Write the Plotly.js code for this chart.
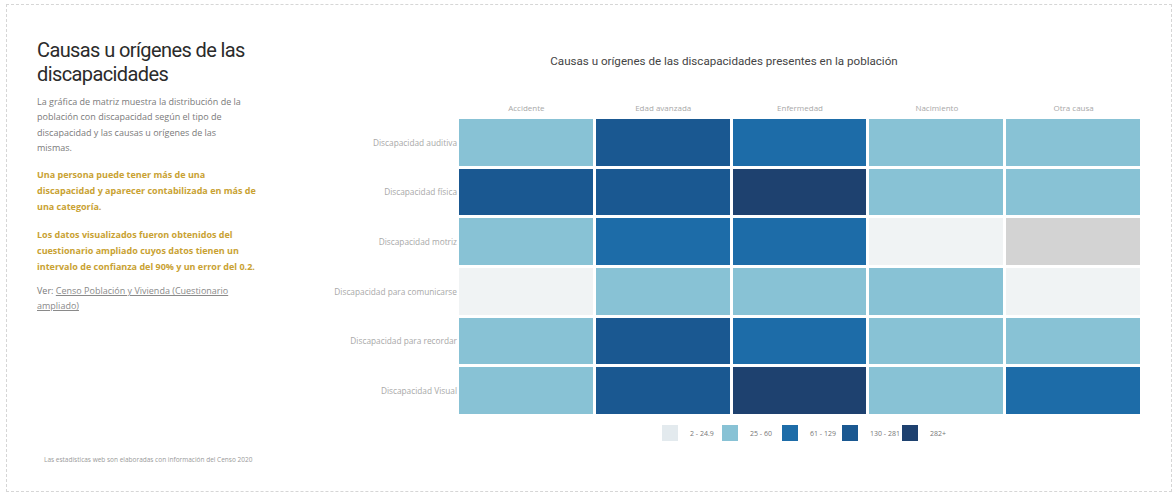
<!DOCTYPE html>
<html lang="es">
<head>
<meta charset="utf-8">
<script src="https://cdn.plot.ly/plotly-3.0.1.min.js"></script>
<style>
  html, body { margin:0; padding:0; background:#fff; }
  body { width:1176px; height:496px; position:relative; overflow:hidden; font-family:"Open Sans", Roboto, sans-serif; }
  #frame { position:absolute; left:6px; top:4px; width:1166px; height:488px; border:1px dashed #d6d6d6; box-sizing:border-box; }
  #side { position:absolute; left:37px; top:38px; width:262px; }
  h1 { margin:0; font-family:Roboto, sans-serif; font-weight:400; font-size:20px; letter-spacing:-0.6px; line-height:24px; color:#2b2b2b; }
  .p { font-size:9px; line-height:15.3px; color:#7a7a7a; margin:0; }
  .gold { font-size:9px; line-height:16px; color:#c9a233; font-weight:700; margin:0; }
  a { color:#8a8a8a; text-decoration:underline; }
  #foot { position:absolute; left:44px; top:455px; font-size:6.5px; color:#9a9a9a; white-space:nowrap; }
  #chart { position:absolute; left:0; top:0; width:1176px; height:496px; }
</style>
</head>
<body>
<div id="frame"></div>
<div id="chart"></div>
<div id="side">
  <h1>Causas u orígenes de las<br>discapacidades</h1>
  <p class="p" style="margin-top:8px">La gráfica de matriz muestra la distribución de la<br>población con discapacidad según el tipo de<br>discapacidad y las causas u orígenes de las<br>mismas.</p>
  <p class="gold" style="margin-top:12px">Una persona puede tener más de una<br>discapacidad y aparecer contabilizada en más de<br>una categoría.</p>
  <p class="gold" style="margin-top:12px">Los datos visualizados fueron obtenidos del<br>cuestionario ampliado cuyos datos tienen un<br>intervalo de confianza del 90% y un error del 0.2.</p>
  <p class="p" style="margin-top:8px">Ver: <a>Censo Población y Vivienda (Cuestionario<br>ampliado)</a></p>
</div>
<div id="foot">Las estadísticas web son elaboradas con información del Censo 2020</div>
<script>
// ---- data ----
const causas = ['Accidente', 'Edad avanzada', 'Enfermedad', 'Nacimiento', 'Otra causa'];
const tipos = ['Discapacidad auditiva', 'Discapacidad física', 'Discapacidad motriz',
               'Discapacidad para comunicarse', 'Discapacidad para recordar', 'Discapacidad Visual'];
const auditiva   = [40, 180, 110, 30, 35];
const fisica     = [150, 200, 320, 45, 40];
const motriz     = [50, 120, 115, 15, null];
const comunicar  = [8, 35, 40, 45, 10];
const recordar   = [30, 170, 100, 35, 40];
const visual     = [45, 230, 300, 40, 90];
const binStarts  = [2, 25, 61, 130, 282];
const binLabels  = ['2 - 24.9', '25 - 60', '61 - 129', '130 - 281', '282+'];
const binColors  = ['#f0f3f4', '#88c2d5', '#1d6ca8', '#1a5891', '#1e416f'];
const legendColors = ['#e3eaee', '#88c2d5', '#1d6ca8', '#1a5891', '#1e416f'];
const noDataColor = '#d3d3d3';

const rows = [auditiva, fisica, motriz, comunicar, recordar, visual];
function cls(v){ if (v == null) return null; let c = 0; binStarts.forEach((b,i)=>{ if (v >= b) c = i; }); return c; }
const zClass = rows.map(r => r.map(cls));
const zMask = rows.map(r => r.map(v => v == null ? 1 : null));
const n = binColors.length;
const cscale = [];
binColors.forEach((c,i)=>{ cscale.push([i/n, c]); cscale.push([(i+1)/n, c]); });

const traces = [
  { type:'heatmap', x:causas, y:tipos, z:zClass, customdata:rows, zmin:-0.5, zmax:n-0.5,
    colorscale:cscale, showscale:false, xgap:3, ygap:3,
    hovertemplate:'%{y}<br>%{x}: %{customdata}<extra></extra>' },
  { type:'heatmap', x:causas, y:tipos, z:zMask, zmin:0, zmax:1,
    colorscale:[[0,noDataColor],[1,noDataColor]], showscale:false, xgap:3, ygap:3, hoverinfo:'skip' }
];
binLabels.forEach((lab,i)=>{
  traces.push({ type:'scatter', mode:'markers', x:[null], y:[null], name:lab, showlegend:true,
    marker:{ symbol:'square', size:17, color:legendColors[i] }, hoverinfo:'skip' });
});

const layout = {
  width:1176, height:496,
  margin:{ l:458, r:34, t:118, b:80 },
  paper_bgcolor:'rgba(0,0,0,0)', plot_bgcolor:'#fff',
  font:{ family:'"Open Sans", Roboto, sans-serif', size:8, color:'#a8a8a8' },
  title:{ text:'Causas u orígenes de las discapacidades presentes en la población',
          font:{ family:'Roboto, sans-serif', size:11.6, color:'#444' },
          xref:'container', x:724/1176, xanchor:'center', yref:'container', y:1-61/496, yanchor:'middle' },
  xaxis:{ type:'category', side:'top', showgrid:false, zeroline:false, showline:false, ticks:'', ticklen:0,
          ticklabelstandoff:4, tickfont:{ size:8, color:'#a8a8a8' }, fixedrange:true },
  yaxis:{ type:'category', autorange:'reversed', showgrid:false, zeroline:false, showline:false, ticks:'',
          tickfont:{ size:8.3, color:'#a8a8a8' }, fixedrange:true },
  showlegend:true,
  legend:{ orientation:'h', x:0.5, xanchor:'center', y:-0.057, yanchor:'middle',
           font:{ size:7, color:'#777' }, itemwidth:30, entrywidth:15, entrywidthmode:'pixels',
           tracegroupgap:0, bgcolor:'rgba(0,0,0,0)' },
  hovermode:'closest'
};
Plotly.newPlot('chart', traces, layout, { displayModeBar:false, responsive:false });
</script>
</body>
</html>
